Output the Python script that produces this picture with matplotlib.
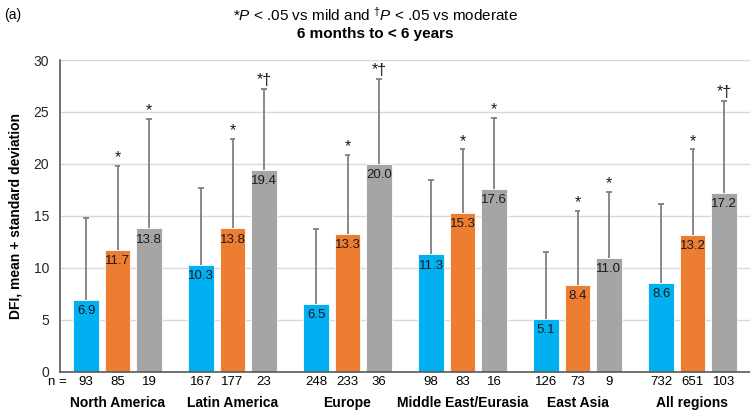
import matplotlib
matplotlib.use("Agg")
import matplotlib.pyplot as plt
import numpy as np

plt.rcParams["font.family"] = ["Liberation Sans", "DejaVu Sans"]
plt.rcParams["mathtext.fontset"] = "custom"
plt.rcParams["mathtext.rm"] = "Liberation Sans"
plt.rcParams["mathtext.it"] = "Liberation Sans:italic"
plt.rcParams["mathtext.bf"] = "Liberation Sans:bold"

# data
regions = ["North America", "Latin America", "Europe", "Middle East/Eurasia", "East Asia", "All regions"]
mild = [6.9, 10.3, 6.5, 11.3, 5.1, 8.6]
moderate = [11.7, 13.8, 13.3, 15.3, 8.4, 13.2]
severe = [13.8, 19.4, 20.0, 17.6, 11.0, 17.2]
mild_sd = [7.9, 7.4, 7.2, 7.2, 6.4, 7.6]
moderate_sd = [8.1, 8.6, 7.6, 6.1, 7.1, 8.2]
severe_sd = [10.5, 7.8, 8.2, 6.8, 6.3, 8.9]
n_mild = [93, 167, 248, 98, 126, 732]
n_moderate = [85, 177, 233, 83, 73, 651]
n_severe = [19, 23, 36, 16, 9, 103]
sig_mild = ["", "", "", "", "", ""]
sig_moderate = ["*", "*", "*", "*", "*", "*"]
sig_severe = ["*", "*\u2020", "*\u2020", "*", "*", "*\u2020"]

colors = ["#00B0F0", "#ED7D31", "#A5A5A5"]
series = [
    (mild, mild_sd, n_mild, sig_mild),
    (moderate, moderate_sd, n_moderate, sig_moderate),
    (severe, severe_sd, n_severe, sig_severe),
]

fig = plt.figure(figsize=(7.5, 4.11), dpi=100)
ax = fig.add_axes([0.08, 0.095, 0.92, 0.759])

x = np.arange(len(regions))
width = 0.226
step = 0.273
cap = 0.025

for i, (vals, sds, ns, sigs) in enumerate(series):
    xs = x + (i - 1) * step
    vals = np.array(vals)
    tops = vals + np.array(sds)
    ax.bar(xs, vals, width, color=colors[i], edgecolor="white", linewidth=0.6, zorder=2)
    # upper error bar only, cap at the top
    ax.vlines(xs, vals, tops, color="#7F7F7F", linewidth=1.3, zorder=3)
    ax.hlines(tops, xs - cap, xs + cap, color="#7F7F7F", linewidth=1.3, zorder=3)
    for xi, v, t, n, s in zip(xs, vals, tops, ns, sigs):
        ax.annotate(f"{v:.1f}", (xi, v), xytext=(0, -8), textcoords="offset points",
                    ha="center", va="center", fontsize=9.5, color="#1a1a1a", zorder=4)
        if s:
            ax.annotate(s, (xi, t), xytext=(0, 0.5), textcoords="offset points",
                        ha="center", va="bottom", fontsize=11.5, color="#1a1a1a")
        ax.annotate(str(n), (xi, 0), xycoords=("data", "axes fraction"),
                    xytext=(0, -7.5), textcoords="offset points",
                    ha="center", va="center", fontsize=9.5, color="black", annotation_clip=False)

for xi, name in zip(x, regions):
    ax.annotate(name, (xi, 0), xycoords=("data", "axes fraction"),
                xytext=(0, -22.5), textcoords="offset points",
                ha="center", va="center", fontsize=10, fontweight="bold", annotation_clip=False)

ax.annotate("n =", (0, 0), xycoords="axes fraction", xytext=(-2, -7.5),
            textcoords="offset points", ha="center", va="center", fontsize=9.5)

ax.set_xlim(-0.5, len(regions) - 0.5)
ax.set_ylim(0, 30)
ax.set_yticks(np.arange(0, 31, 5))
ax.set_xticks([])
ax.tick_params(axis="y", length=0, pad=8, labelsize=10, colors="#262626")
ax.yaxis.grid(True, color="#D9D9D9", linewidth=1, zorder=0)
ax.set_axisbelow(True)
for side in ["top", "right"]:
    ax.spines[side].set_visible(False)
ax.spines["left"].set_color("#595959")
ax.spines["bottom"].set_color("#595959")
ax.spines["left"].set_linewidth(1.2)
ax.spines["bottom"].set_linewidth(1.2)

ax.set_ylabel("DFI, mean + standard deviation", fontsize=10, fontweight="bold", labelpad=8)

fig.text(0.5, 0.963, r"*$\mathit{P}$ < .05 vs mild and $^{\dagger}\mathit{P}$ < .05 vs moderate",
         ha="center", va="center", fontsize=11)
fig.text(0.5, 0.918, "6 months to < 6 years", ha="center", va="center",
         fontsize=11, fontweight="bold")
fig.text(0.005, 0.963, "(a)", ha="left", va="center", fontsize=10)

fig.savefig("out.png", dpi=100)
